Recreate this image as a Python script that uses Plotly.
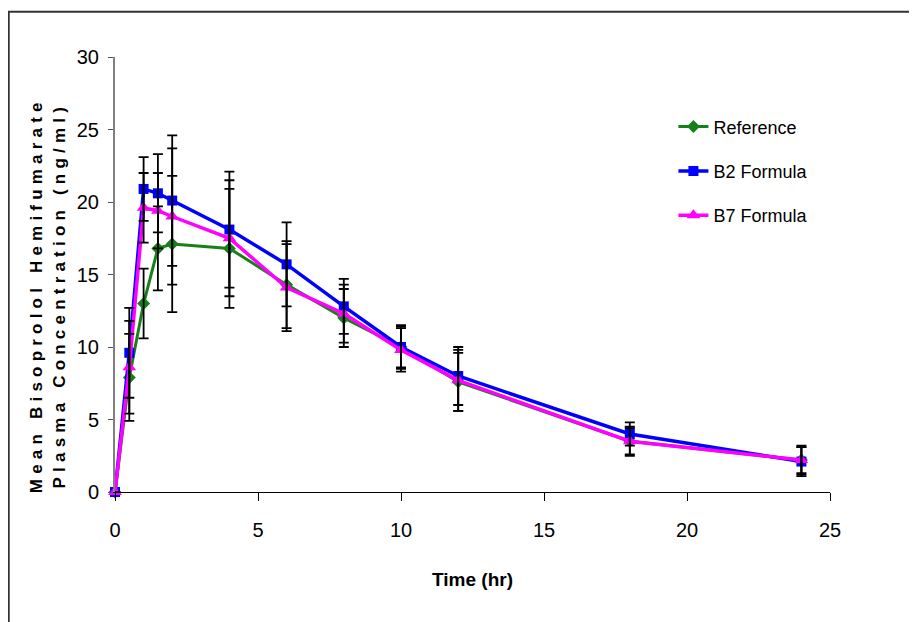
import plotly.graph_objects as go

time_hr = [0, 0.5, 1, 1.5, 2, 4, 6, 8, 10, 12, 18, 24]

ref_mean = [0, 7.9, 13.0, 16.8, 17.1, 16.8, 14.3, 12.0, 10.0, 7.6, 3.5, 2.2]
ref_sd = [0, 3.0, 2.4, 2.9, 4.7, 4.1, 3.0, 2.0, 1.4, 2.0, 0.9, 1.0]

b2_mean = [0, 9.6, 20.9, 20.6, 20.1, 18.1, 15.7, 12.8, 10.0, 8.0, 4.0, 2.1]
b2_sd = [0, 3.1, 2.2, 2.7, 4.5, 4.0, 2.9, 1.9, 1.5, 2.0, 0.8, 1.0]

b7_mean = [0, 8.6, 19.6, 19.4, 19.0, 17.5, 14.1, 12.3, 9.8, 7.7, 3.5, 2.2]
b7_sd = [0, 3.2, 2.4, 2.6, 4.7, 4.0, 3.0, 2.0, 1.5, 2.1, 1.0, 0.9]

series_names = ["Reference", "B2 Formula", "B7 Formula"]
x_ticks = [0, 5, 10, 15, 20, 25]
y_ticks = [0, 5, 10, 15, 20, 25, 30]

FONT = "Liberation Sans, Arial, sans-serif"

fig = go.Figure()

styles = [
    dict(color="#188018", symbol="diamond", size=10, lw=3),
    dict(color="#0000FF", symbol="square", size=10, lw=3.5),
    dict(color="#FF00FF", symbol="triangle-up", size=12, lw=3.5),
]
means = [ref_mean, b2_mean, b7_mean]
sds = [ref_sd, b2_sd, b7_sd]

for i, (name, m, st) in enumerate(zip(series_names, means, styles)):
    fig.add_trace(go.Scatter(
        x=time_hr, y=m, name=name, mode="lines+markers",
        line=dict(color=st["color"], width=st["lw"]),
        marker=dict(color=st["color"], symbol=st["symbol"], size=st["size"]),
        cliponaxis=False, legendgroup=name,
    ))

for name, m, sd in zip(series_names, means, sds):
    fig.add_trace(go.Scatter(
        x=time_hr, y=m, mode="markers", showlegend=False, hoverinfo="skip",
        marker=dict(size=1, opacity=0),
        error_y=dict(type="data", array=sd, visible=True, color="black",
                     thickness=1.8, width=5),
        cliponaxis=False,
    ))

ytitle = ('<span style="letter-spacing:5.2px">Mean Bisoprolol Hemifumarate</span><br>'
          '<span style="letter-spacing:5.2px">Plasma Concentration (ng/ml)</span>')

fig.add_annotation(
    text=ytitle, xref="paper", yref="paper", x=-0.094, y=0.452,
    xanchor="center", yanchor="middle", textangle=-90, showarrow=False,
    font=dict(family=FONT, size=17, color="black", weight="bold"),
)

# outer frame
fig.add_shape(type="rect", xref="paper", yref="paper",
              x0=-0.1485, x1=1.13, y0=-0.31, y1=1.104,
              line=dict(color="#333333", width=1.8), fillcolor="rgba(0,0,0,0)")

fig.update_layout(
    width=917, height=622,
    margin=dict(l=107, r=95, t=49, b=138),
    paper_bgcolor="white", plot_bgcolor="white",
    showlegend=True,
    legend=dict(
        x=0.781, y=0.882, xanchor="left", yanchor="top",
        font=dict(family=FONT, size=18, color="black"),
        bgcolor="rgba(0,0,0,0)", tracegroupgap=18, traceorder="grouped",
    ),
    xaxis=dict(
        range=[0, 25], tickvals=x_ticks, ticktext=[str(v) for v in x_ticks],
        showgrid=False, zeroline=False, showline=True, linecolor="black", linewidth=1,
        ticks="outside", ticklen=8, tickcolor="black", tickwidth=1,
        ticklabelstandoff=12,
        tickfont=dict(family=FONT, size=20, color="black"),
        title=dict(text="Time (hr)", standoff=32,
                   font=dict(family=FONT, size=19, color="black", weight="bold")),
    ),
    yaxis=dict(
        range=[0, 30], tickvals=y_ticks, ticktext=[str(v) for v in y_ticks],
        showgrid=False, zeroline=False, showline=True, linecolor="#808080", linewidth=2,
        ticks="outside", ticklen=5, tickcolor="#555555", tickwidth=1,
        ticklabelstandoff=5,
        tickfont=dict(family=FONT, size=20, color="black"),
    ),
)

fig.write_html("out.html")
